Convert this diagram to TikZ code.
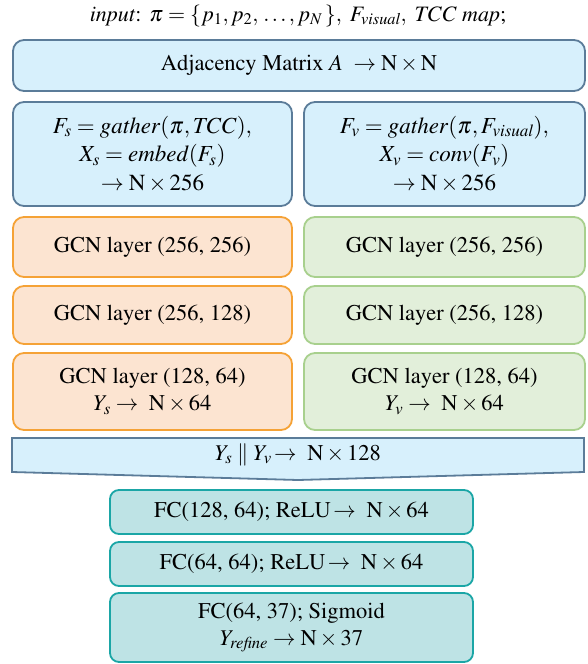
\documentclass[tikz,border=0pt]{standalone}
\usepackage[T1]{fontenc}
\usepackage{mathptmx}
\definecolor{bluefill}{HTML}{D7F0FC}
\definecolor{blueline}{HTML}{5B7C99}
\definecolor{orfill}{HTML}{FCE4D1}
\definecolor{orline}{HTML}{F5A236}
\definecolor{grfill}{HTML}{E2EFDA}
\definecolor{grline}{HTML}{A8D08D}
\definecolor{fcfill}{HTML}{BEE3E5}
\definecolor{fcline}{HTML}{1BA6A6}
\begin{document}
\begin{tikzpicture}[x=1pt,y=-1pt,
  every node/.style={font=\fontsize{22.5}{27}\selectfont, align=center, inner sep=0pt},
  box/.style={draw, line width=1.8pt, rounded corners=11pt},
  bluebox/.style={box, draw=blueline, fill=bluefill},
  orbox/.style={box, draw=orline, fill=orfill},
  grbox/.style={box, draw=grline, fill=grfill},
  fcbox/.style={box, draw=fcline, fill=fcfill, rounded corners=9pt}]
\useasboundingbox (0,0) rectangle (588,664);
\node[font=\fontsize{22}{27}\selectfont] (inp) at (298,16) {$\mathit{input}\colon\ \pi=\{p_1,p_2,\,\dots,p_N\,\},\ F_{\mathit{visual}},\ \mathit{TCC}\ \mathit{map};$};
\node[bluebox, minimum width=572pt, minimum height=51pt] (adj) at (299,65.5) {Adjacency Matrix $A\ \rightarrow \mathrm{N}\times\mathrm{N}$};
\node[bluebox, minimum width=279pt, minimum height=104pt, font=\fontsize{23}{28.5}\selectfont] (bs) at (152.5,154) {$F_s=\mathit{gather}(\pi,\mathit{TCC}),$\\ $X_s=\mathit{embed}(F_s)$\\ $\rightarrow\mathrm{N}\times 256$};
\node[bluebox, minimum width=281pt, minimum height=104pt, font=\fontsize{23}{28.5}\selectfont] (bv) at (444.5,154) {$F_v=\mathit{gather}(\pi,F_{\mathit{visual}}),$\\ $X_v=\mathit{conv}(F_v)$\\ $\rightarrow\mathrm{N}\times 256$};
\node[orbox, minimum width=279pt, minimum height=60pt] (o1) at (152.5,247) {GCN layer (256, 256)};
\node[orbox, minimum width=279pt, minimum height=58pt] (o2) at (152.5,315) {GCN layer (256, 128)};
\node[orbox, minimum width=279pt, minimum height=77pt] (o3) at (152.5,391.5) {GCN layer (128, 64)\\ $Y_s\rightarrow\ \mathrm{N}\times 64$};
\node[grbox, minimum width=281pt, minimum height=60pt] (g1) at (444.5,247) {GCN layer (256, 256)};
\node[grbox, minimum width=281pt, minimum height=58pt] (g2) at (444.5,315) {GCN layer (256, 128)};
\node[grbox, minimum width=281pt, minimum height=77pt] (g3) at (444.5,391.5) {GCN layer (128, 64)\\ $Y_v\rightarrow\ \mathrm{N}\times 64$};
\draw[line width=1.8pt, draw=blueline, fill=bluefill] (12,438) -- (584,438) -- (584,472) -- (298,480) -- (12,472) -- cycle;
\node (cat) at (298,455) {$Y_s\parallel Y_v\!\rightarrow\ \mathrm{N}\times 128$};
\node[fcbox, minimum width=363pt, minimum height=44pt] (fc1) at (291.5,512) {FC(128, 64); ReLU$\,\rightarrow\ \mathrm{N}\times 64$};
\node[fcbox, minimum width=363pt, minimum height=44pt] (fc2) at (291.5,564) {FC(64, 64); ReLU$\,\rightarrow\ \mathrm{N}\times 64$};
\node[fcbox, minimum width=363pt, minimum height=69pt] (fc3) at (291.5,627.5) {FC(64, 37); Sigmoid\\ $Y_{\mathit{refine}}\rightarrow\mathrm{N}\times 37$};
\end{tikzpicture}
\end{document}
